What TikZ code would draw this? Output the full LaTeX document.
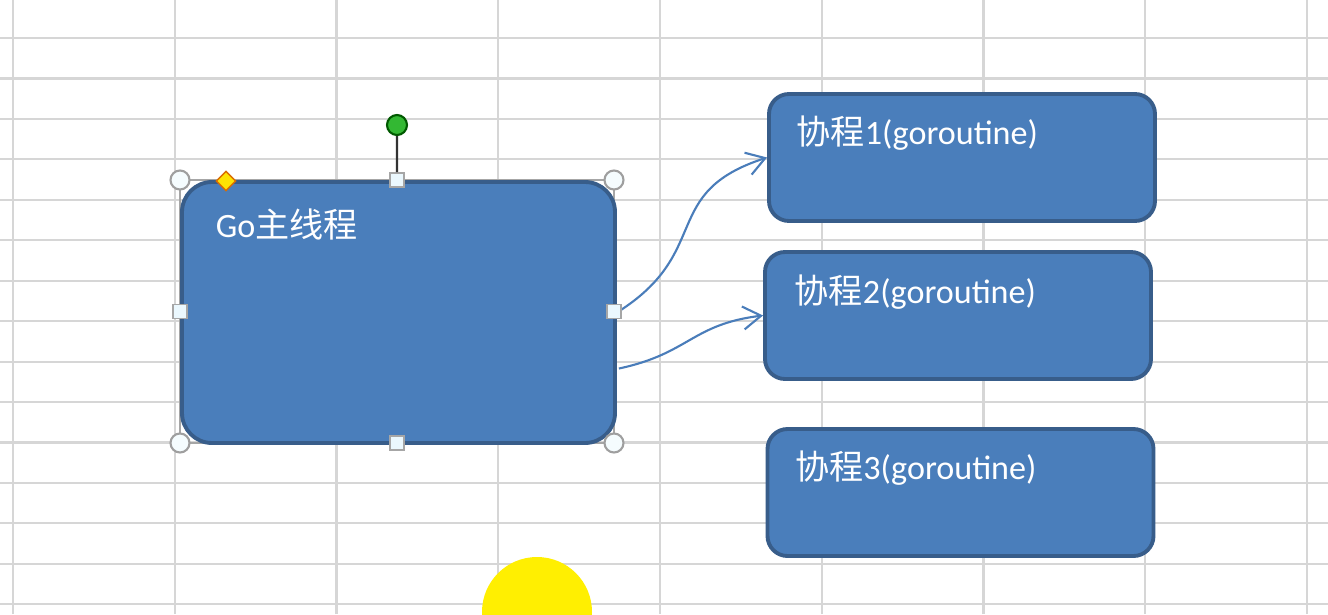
\documentclass[tikz,border=0pt]{standalone}
\usepackage{fontspec}
\setmainfont{Carlito}
\newfontfamily\cjk{Noto Sans CJK SC}
\usetikzlibrary{arrows.meta,positioning,calc,shapes.geometric}
\definecolor{boxfill}{HTML}{4A7EBB}
\definecolor{boxline}{HTML}{385D8A}
\definecolor{gridgray}{HTML}{D6D6D6}
\definecolor{linkblue}{HTML}{4A7DBA}

\begin{document}
\begin{tikzpicture}[
	grid/.style={gridgray,line width=0.6pt},
	blk/.style={draw=boxline,line width=1.1pt,fill=boxfill,inner sep=0pt},
	mainblk/.style={blk,rounded corners=0.3cm,minimum width=4.33cm,minimum height=2.61cm},
	coblk/.style={blk,rounded corners=0.2cm,minimum width=3.86cm,minimum height=1.27cm},
	lbl/.style={text=white,inner sep=0pt,anchor=west,font=\fontsize{9.7}{11}\selectfont},
	link/.style={-{Straight Barb[length=1.8mm,width=2.3mm]},linkblue,line width=0.6pt},
	frame/.style={gray!70,line width=0.4pt},
	hdl/.style={circle,draw=gray!75,fill=cyan!4,line width=0.6pt,minimum size=0.19cm,inner sep=0pt},
	sq/.style={rectangle,draw=gray!70,fill=cyan!8,line width=0.5pt,minimum size=0.14cm,inner sep=0pt},
	rot/.style={circle,draw=green!35!black,fill=green!65!black!80,line width=0.6pt,minimum size=0.2cm,inner sep=0pt},
	adj/.style={diamond,draw=orange!85!black,fill=yellow!85!orange,line width=0.4pt,minimum size=0.2cm,inner sep=0pt},
	stem/.style={gray!40!black,line width=0.6pt}
	]
	\useasboundingbox (0,0) rectangle (13.28,6.14);
	\fill[white] (0,0) rectangle (13.28,6.14);
	
	\foreach \gx in {0,...,8}
		\draw[grid] ({0.13+1.6175*\gx},0) -- ++(0,6.14);
	\foreach \gy in {0,...,14}
		\draw[grid] (0,{5.76-0.4045*\gy}) -- ++(13.28,0);
	
	\coordinate (fnw) at (1.80,4.34);
	\coordinate (fse) at (6.14,1.71);
	\draw[frame] (fnw) rectangle (fse);
	
	\node[mainblk] (main) at (3.985,3.015) {};
	\node[lbl] (mainlbl) at ($(main.north west)+(0.35,-0.44)$) {Go{\cjk 主线程}};
	
	\node[coblk] (co1) at (9.62,4.565) {};
	\node[coblk] (co2) at (9.58,2.985) {};
	\node[coblk] (co3) at (9.605,1.215) {};
	\node[lbl] (co1lbl) at ($(co1.north west)+(0.29,-0.41)$) {{\cjk 协程}1(goroutine)};
	\node[lbl] (co2lbl) at ($(co2.north west)+(0.31,-0.42)$) {{\cjk 协程}2(goroutine)};
	\node[lbl] (co3lbl) at ($(co3.north west)+(0.29,-0.41)$) {{\cjk 协程}3(goroutine)};
	
	\coordinate (tail2) at ($(main.east)+(0.02,-0.56)$);
	\draw[link] (main.east) to[out=32,in=198,looseness=1.35] (co1.west);
	\draw[link] (tail2) to[out=12,in=187,looseness=1.2] (co2.west);
	
	\node[hdl] (hnw) at (fnw) {};
	\node[hdl] (hne) at (fse |- fnw) {};
	\node[hdl] (hsw) at (fnw |- fse) {};
	\node[hdl] (hse) at (fse) {};
	\node[sq] (hn) at ($(fnw)!0.5!(hne)$) {};
	\node[sq] (hs) at ($(hsw)!0.5!(fse)$) {};
	\node[sq] (hw) at ($(fnw)!0.5!(hsw)$) {};
	\node[sq] (he) at ($(hne)!0.5!(fse)$) {};
	\node[rot] (hrot) at (3.97,4.89) {};
	\draw[stem] (hrot) -- (hn);
	\node[adj] (hadj) at (2.26,4.33) {};
	
	\begin{scope}
		\clip (0,0) rectangle (13.28,6.14);
		\fill[yellow!97!orange] (5.37,0.02) circle (0.55);
	\end{scope}
\end{tikzpicture}
\end{document}
